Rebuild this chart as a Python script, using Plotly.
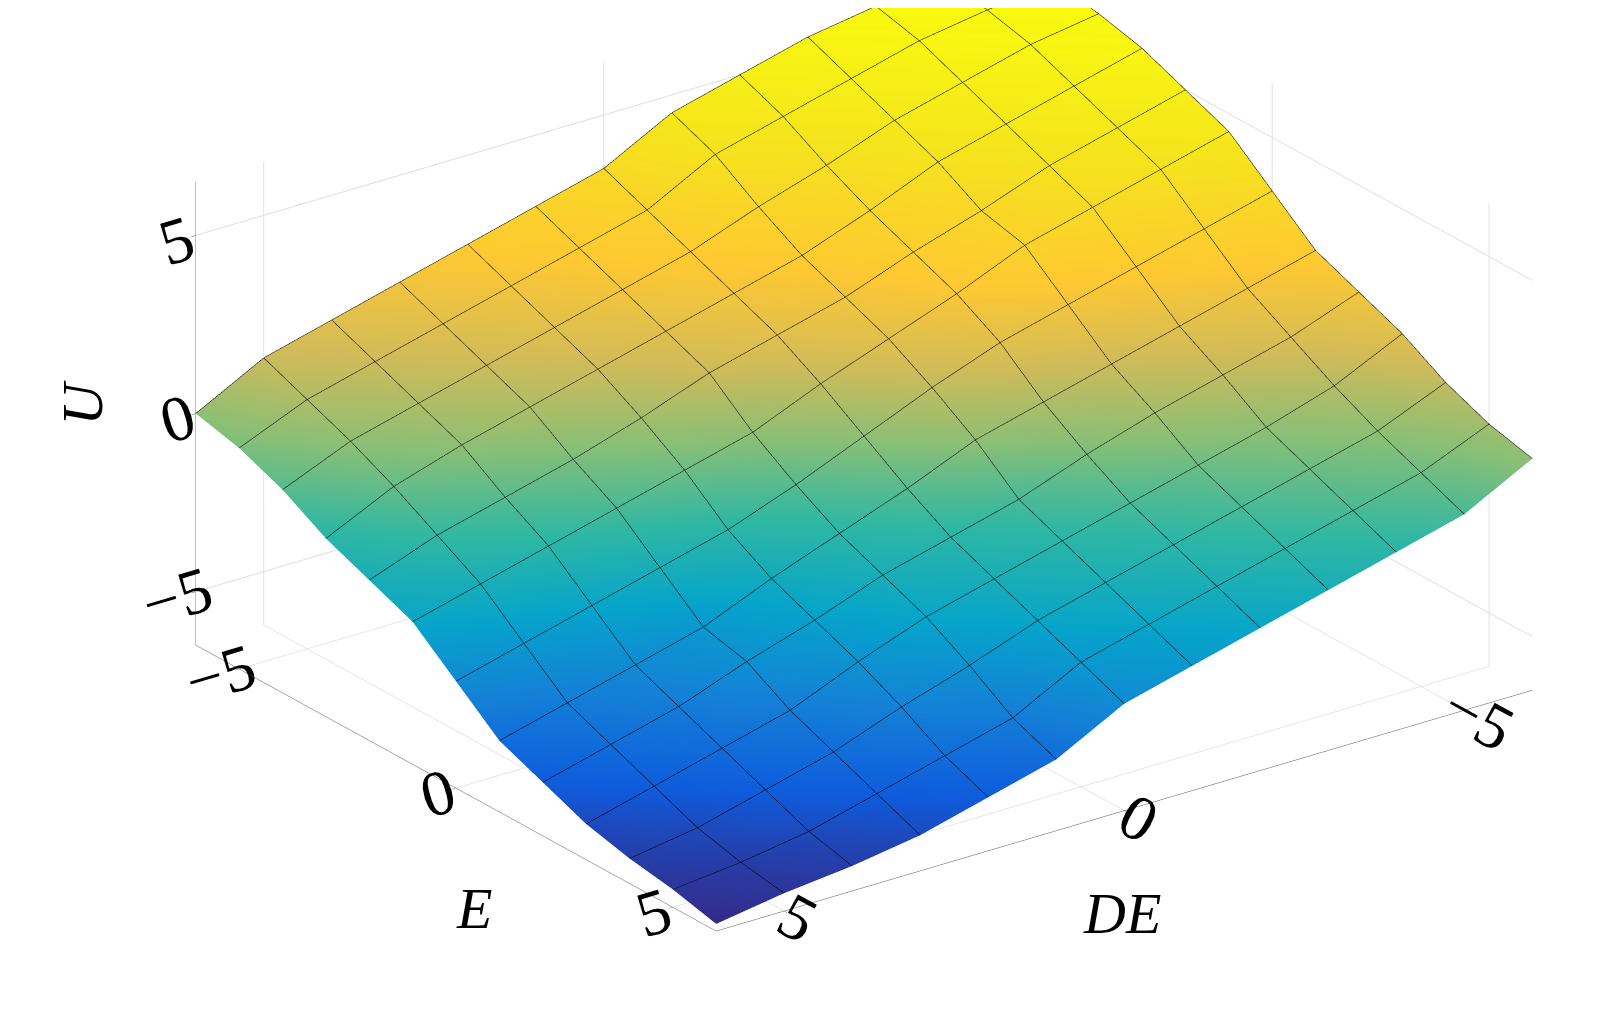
import plotly.graph_objects as go

e_vals = [-6, -5, -4, -3, -2, -1, 0, 1, 2, 3, 4, 5, 6]
de_vals = [-6, -5, -4, -3, -2, -1, 0, 1, 2, 3, 4, 5, 6]

# rows: E, columns: DE
u_vals = [
    [6.0, 6.0, 5.8, 5.5, 5.0, 4.5, 3.5, 3.0, 2.5, 2.0, 1.5, 1.0, 0.0],
    [6.0, 5.8, 5.5, 5.0, 4.5, 4.0, 3.0, 2.5, 2.0, 1.5, 1.0, 0.5, -0.3],
    [5.8, 5.5, 5.0, 4.5, 3.8, 3.2, 2.5, 2.0, 1.5, 1.0, 0.5, 0.0, -0.8],
    [5.5, 5.0, 4.5, 4.0, 3.2, 2.5, 2.0, 1.5, 1.0, 0.5, 0.0, -0.6, -1.5],
    [5.0, 4.5, 4.0, 3.3, 2.7, 2.0, 1.5, 1.0, 0.3, -0.3, -0.8, -1.3, -2.0],
    [4.5, 4.0, 3.5, 3.0, 2.2, 1.5, 0.8, 0.0, -0.5, -1.0, -1.5, -2.0, -2.5],
    [3.5, 3.0, 2.5, 2.0, 1.5, 0.8, 0.0, -0.8, -1.5, -2.0, -2.5, -3.0, -3.5],
    [2.5, 2.0, 1.5, 1.0, 0.5, 0.0, -0.8, -1.5, -2.2, -3.0, -3.5, -4.0, -4.5],
    [2.0, 1.3, 0.8, 0.3, -0.3, -1.0, -1.5, -2.0, -2.7, -3.3, -4.0, -4.5, -5.0],
    [1.5, 0.6, 0.0, -0.5, -1.0, -1.5, -2.0, -2.5, -3.2, -4.0, -4.5, -5.0, -5.5],
    [0.8, 0.0, -0.5, -1.0, -1.5, -2.0, -2.5, -3.2, -3.8, -4.5, -5.0, -5.5, -5.8],
    [0.3, -0.5, -1.0, -1.5, -2.0, -2.5, -3.0, -4.0, -4.5, -5.0, -5.5, -5.8, -6.0],
    [0.0, -1.0, -1.5, -2.0, -2.5, -3.0, -3.5, -4.5, -5.0, -5.5, -5.8, -6.0, -6.3],
]

parula = [
    [0.0, '#352a87'], [0.1, '#0f5cdd'], [0.2, '#1481d6'], [0.3, '#06a4ca'],
    [0.4, '#2eb7a4'], [0.5, '#87bf77'], [0.6, '#d1bb59'], [0.7, '#fec832'],
    [0.85, '#f5e41d'], [1.0, '#f9fb0e'],
]

tick_font = dict(family='Liberation Serif', size=28, color='black')
title_font = dict(family='Liberation Serif', size=58, color='black', style='italic')

fig = go.Figure()
fig.add_trace(go.Surface(
    x=de_vals, y=e_vals, z=u_vals,
    colorscale=parula, showscale=False,
    lighting=dict(ambient=1, diffuse=0, specular=0, fresnel=0),
    contours=dict(
        x=dict(show=True, start=-6, end=6, size=1, color='black', width=1.5),
        y=dict(show=True, start=-6, end=6, size=1, color='black', width=1.5),
    ),
))

def ax(rng):
    return dict(
        title=dict(text=''),
        range=rng, tickvals=[-5, 0, 5], ticktext=['\u22125', '0', '5'],
        tickfont=tick_font, showbackground=False,
        gridcolor='#dddddd', showline=True, linecolor='#555555',
        zeroline=False, ticks='outside', tickcolor='#555555',
    )

fig.update_layout(
    width=1615, height=1012,
    paper_bgcolor='white',
    margin=dict(l=0, r=0, t=0, b=0),
    scene=dict(
        xaxis=ax([-6, 6]),
        yaxis=ax([-6, 6]),
        zaxis=ax([-6.5, 6.5]),
        aspectmode='manual', aspectratio=dict(x=2.0, y=1.74, z=1.0),
        camera=dict(eye=dict(x=0.72, y=0.82, z=0.31),
                    center=dict(x=0.075, y=-0.06, z=-0.17),
                    projection=dict(type='orthographic')),
    ),
    annotations=[
        dict(x=0.276, y=0.076, text='E', font=title_font),
        dict(x=0.715, y=0.071, text='DE', font=title_font),
        dict(x=0.025, y=0.61, text='U', font=title_font, textangle=-90),
    ],
)
fig.update_annotations(xref='paper', yref='paper', showarrow=False)

fig.write_html("out.html")
